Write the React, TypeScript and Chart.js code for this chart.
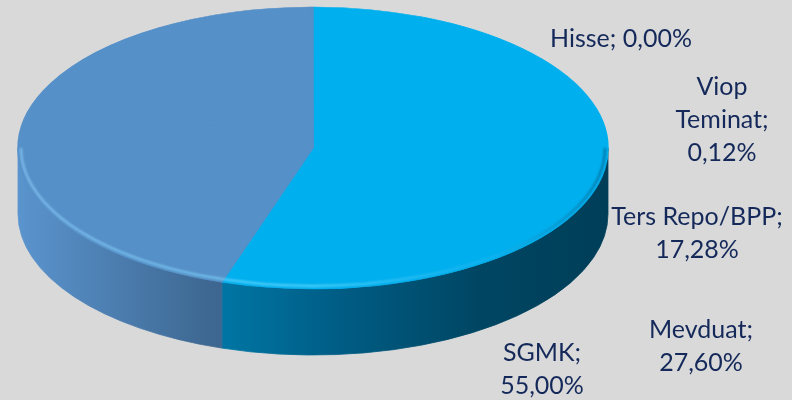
import React, { useEffect, useRef } from "react";
import { Chart, registerables } from "chart.js";

Chart.register(...registerables);

// ---- data (clockwise from 12 o'clock) ----
const categories = ["SGMK", "Mevduat", "Ters Repo/BPP", "Viop Teminat", "Hisse"];
const shares = [55.0, 27.6, 17.28, 0.12, 0.0];

// ---- styles ----
const topColors = ["#00AFEE", "#5590C8", "#5590C8", "#5590C8", "#5590C8"];
const steelSide = ["#5A94CE", "#3E6892", "#34587C", "#2C4A68", "#284460"];
const sideStops = [
  ["#0098CF", "#0079A8", "#005C84", "#004663", "#003E58"],
  steelSide,
  steelSide,
  steelSide,
  steelSide,
];
const stopPos = [0, 0.32, 0.55, 0.78, 1];

// ---- layout ----
const GEO = { cx: 313, cy: 148, rx: 295, ry: 141, depth: 66 };
const labelAnchors = [
  { x: 542, y: 353, wrap: 90 },
  { x: 701, y: 330, wrap: 120 },
  { x: 697, y: 217, wrap: 190 },
  { x: 722, y: 87, wrap: 110 },
  { x: 621, y: 39, wrap: 220 },
];
const LABEL_FONT = "25px Lato";
const LABEL_COLOR = "#14295A";
const LINE_H = 33;
const BG = "#D9D9D9";

function fmt(v: number) {
  return v.toFixed(2).replace(".", ",") + "%";
}

function wrapText(ctx: CanvasRenderingContext2D, text: string, maxW: number) {
  const words = text.split(" ");
  const lines: string[] = [];
  let cur = "";
  for (const w of words) {
    const t = cur ? cur + " " + w : w;
    if (cur && ctx.measureText(t).width > maxW) {
      lines.push(cur);
      cur = w;
    } else cur = t;
  }
  if (cur) lines.push(cur);
  return lines;
}

function visibleRanges(s: number, e: number) {
  const out: [number, number][] = [];
  for (let k = -2; k <= 2; k++) {
    const lo = 2 * Math.PI * k;
    const hi = lo + Math.PI;
    const a0 = Math.max(s, lo);
    const a1 = Math.min(e, hi);
    if (a1 - a0 > 1e-6) out.push([a0, a1]);
  }
  return out;
}

const pie3d = {
  id: "pie3d",
  beforeDraw(chart: any) {
    const ctx = chart.ctx;
    ctx.save();
    ctx.fillStyle = BG;
    ctx.fillRect(0, 0, chart.width, chart.height);
    ctx.restore();
  },
  beforeDatasetsDraw(chart: any) {
    const ctx: CanvasRenderingContext2D = chart.ctx;
    const arcs = chart.getDatasetMeta(0).data;
    const { cx, cy, rx, ry, depth } = GEO;
    arcs.forEach((arc: any, i: number) => {
      visibleRanges(arc.startAngle, arc.endAngle).forEach(([a0, a1]) => {
        const g = ctx.createLinearGradient(cx - rx, 0, cx + rx, 0);
        sideStops[i].forEach((c, j) => g.addColorStop(stopPos[j], c));
        ctx.save();
        ctx.beginPath();
        ctx.ellipse(cx, cy, rx, ry, 0, a0, a1, false);
        ctx.ellipse(cx, cy + depth, rx, ry, 0, a1, a0, true);
        ctx.closePath();
        ctx.fillStyle = g;
        ctx.fill();
        ctx.strokeStyle = g;
        ctx.lineWidth = 0.8;
        ctx.stroke();
        ctx.restore();
      });
    });
    const a = arcs[0];
    ctx.save();
    ctx.translate(cx, cy);
    ctx.scale(rx / a.outerRadius, ry / a.outerRadius);
    ctx.translate(-a.x, -a.y);
  },
  afterDatasetsDraw(chart: any) {
    const ctx: CanvasRenderingContext2D = chart.ctx;
    ctx.restore();
    const { cx, cy, rx, ry } = GEO;
    // bevel highlight along the front rim
    const g = ctx.createLinearGradient(cx - rx, 0, cx + rx, 0);
    g.addColorStop(0, "rgba(150,210,255,0.75)");
    g.addColorStop(0.5, "rgba(120,225,255,0.7)");
    g.addColorStop(0.8, "rgba(60,190,240,0.35)");
    g.addColorStop(1, "rgba(0,50,80,0.5)");
    ctx.save();
    ctx.beginPath();
    ctx.ellipse(cx, cy, rx - 3, ry - 3, 0, 0, Math.PI, false);
    ctx.strokeStyle = g;
    ctx.lineWidth = 2;
    ctx.filter = "blur(0.8px)";
    ctx.stroke();
    ctx.restore();
    // labels
    ctx.save();
    ctx.font = LABEL_FONT;
    ctx.fillStyle = LABEL_COLOR;
    ctx.textAlign = "center";
    ctx.textBaseline = "middle";
    categories.forEach((c, i) => {
      const anchor = labelAnchors[i];
      const lines = wrapText(ctx, `${c}; ${fmt(shares[i])}`, anchor.wrap);
      lines.forEach((ln, j) => ctx.fillText(ln, anchor.x, anchor.y + j * LINE_H));
    });
    ctx.restore();
  },
};

export default function App() {
  const ref = useRef<HTMLCanvasElement | null>(null);
  useEffect(() => {
    if (!ref.current) return;
    const chart = new Chart(ref.current, {
      type: "pie",
      data: {
        labels: categories,
        datasets: [
          {
            data: shares,
            backgroundColor: topColors,
            borderColor: topColors,
            borderWidth: 1,
            clip: false as any,
          },
        ],
      },
      options: {
        responsive: false,
        animation: false,
        events: [],
        layout: { padding: 0 },
        plugins: { legend: { display: false }, tooltip: { enabled: false } },
      },
      plugins: [pie3d as any],
    });
    return () => chart.destroy();
  }, []);
  return (
    <div style={{ position: "fixed", left: 0, top: 0, width: 792, height: 400, background: BG }}>
      <canvas ref={ref} width={792} height={400} style={{ display: "block" }} />
    </div>
  );
}
